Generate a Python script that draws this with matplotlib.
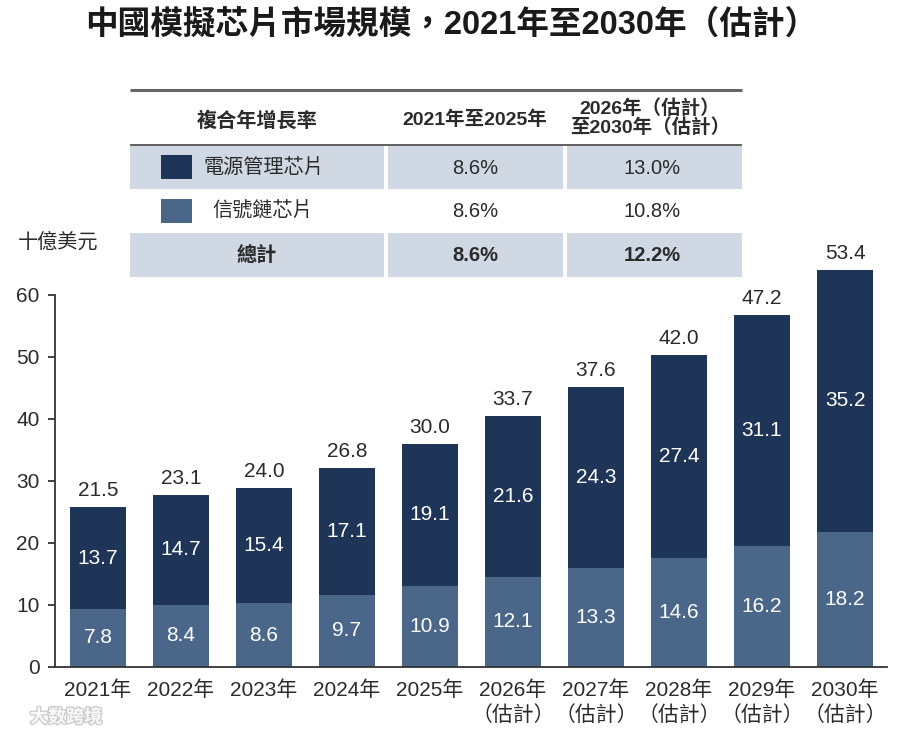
import matplotlib
matplotlib.use("Agg")
import matplotlib.pyplot as plt
import matplotlib.patheffects as pe
from matplotlib.patches import Rectangle

# ---- data (十億美元) ----
years = ["2021年", "2022年", "2023年", "2024年", "2025年",
         "2026年", "2027年", "2028年", "2029年", "2030年"]
estimated = [False] * 5 + [True] * 5
signal_chain = [7.8, 8.4, 8.6, 9.7, 10.9, 12.1, 13.3, 14.6, 16.2, 18.2]
power_mgmt = [13.7, 14.7, 15.4, 17.1, 19.1, 21.6, 24.3, 27.4, 31.1, 35.2]
totals = [21.5, 23.1, 24.0, 26.8, 30.0, 33.7, 37.6, 42.0, 47.2, 53.4]

# CAGR table
cagr_rows = ["電源管理芯片", "信號鏈芯片", "總計"]
cagr_2021_2025 = ["8.6%", "8.6%", "8.6%"]
cagr_2026_2030 = ["13.0%", "10.8%", "12.2%"]

# the source chart draws its bars 1.2x taller than its own y axis says
AXIS_SCALE = 1.2

DARK = "#1f3558"
LIGHT = "#4a6789"
SHADE = "#cfd8e3"
TXT = "#2b2b2b"
CJK = ["Liberation Sans", "Noto Sans CJK TC"]

plt.rcParams["font.family"] = CJK

fig = plt.figure(figsize=(9, 7.35), dpi=100)

# ---- overlay in pixel coords for title + CAGR table ----
ov = fig.add_axes([0, 0, 1, 1])
ov.set_xlim(0, 900)
ov.set_ylim(735, 0)
ov.axis("off")

ov.text(451, 25, "中國模擬芯片市場規模，2021年至2030年（估計）",
        ha="center", va="center", fontsize=23.5, fontweight="bold", color="#1a1a1a")

ov.plot([130, 742], [90, 90], color="#666666", lw=2.2, solid_capstyle="butt")
ov.plot([130, 742], [145, 145], color="#444444", lw=1.2, solid_capstyle="butt")
cols = [(130, 384), (388, 563), (567, 742)]
for y0, y1 in [(146, 189), (233, 277)]:
    for x0, x1 in cols:
        ov.add_patch(Rectangle((x0, y0), x1 - x0, y1 - y0, color=SHADE, lw=0))

ov.text(257, 121, "複合年增長率", ha="center", va="center", fontsize=14.5,
        fontweight="bold", color=TXT)
ov.text(475, 120, "2021年至2025年", ha="center", va="center", fontsize=14,
        fontweight="bold", color=TXT)
ov.text(650, 118, "2026年（估計）\n至2030年（估計）", ha="center", va="center",
        fontsize=14, fontweight="bold", color=TXT, linespacing=1.05)

ov.add_patch(Rectangle((161, 155), 31, 24, color=DARK, lw=0))
ov.add_patch(Rectangle((161, 199), 31, 24, color=LIGHT, lw=0))
row_y = [168, 211, 255]
ov.text(203, row_y[0], cagr_rows[0], ha="left", va="center", fontsize=14.5, color=TXT)
ov.text(212, row_y[1], cagr_rows[1], ha="left", va="center", fontsize=14.5, color=TXT)
ov.text(257, row_y[2], cagr_rows[2], ha="center", va="center", fontsize=14.5,
        fontweight="bold", color=TXT)
for i, y in enumerate(row_y):
    w = "bold" if i == 2 else "normal"
    ov.text(475, y, cagr_2021_2025[i], ha="center", va="center", fontsize=14.5,
            fontweight=w, color=TXT)
    ov.text(652, y, cagr_2026_2030[i], ha="center", va="center", fontsize=14.5,
            fontweight=w, color=TXT)

ov.text(18, 242, "十億美元", ha="left", va="center", fontsize=14.5, color=TXT)
ov.text(30, 717, "大数跨境", ha="left", va="center", fontsize=13, color="white",
        fontweight="bold", family=["Noto Sans CJK SC"], alpha=0.9,
        path_effects=[pe.withStroke(linewidth=2, foreground="#c8c8c8")])

# ---- bar chart ----
ax = fig.add_axes([55 / 900, 68 / 735, 832 / 900, 427 / 735])
ax.patch.set_alpha(0)
x = list(range(len(years)))
sig_h = [v * AXIS_SCALE for v in signal_chain]
pow_h = [v * AXIS_SCALE for v in power_mgmt]
ax.bar(x, sig_h, width=0.675, color=LIGHT)
ax.bar(x, pow_h, width=0.675, bottom=sig_h, color=DARK)

for i in x:
    ax.text(i, sig_h[i] / 2, f"{signal_chain[i]:.1f}", ha="center", va="center",
            color="white", fontsize=15)
    ax.text(i, sig_h[i] + pow_h[i] / 2, f"{power_mgmt[i]:.1f}", ha="center",
            va="center", color="white", fontsize=15)
    ax.annotate(f"{totals[i]:.1f}", (i, sig_h[i] + pow_h[i]), xytext=(0, 5),
                textcoords="offset points", ha="center", va="bottom",
                color=TXT, fontsize=15)

ax.set_xlim(-0.518, 9.506)
ax.set_ylim(0, 427 / 6.2)
ax.set_yticks(range(0, 61, 10))
ax.spines["left"].set_bounds(0, 60)
for s in ["top", "right"]:
    ax.spines[s].set_visible(False)
for s in ["left", "bottom"]:
    ax.spines[s].set_color("#333333")
    ax.spines[s].set_linewidth(1.3)
ax.set_xticks(x)
ax.set_xticklabels([y + "\n（估計）" if e else y for y, e in zip(years, estimated)],
                   linespacing=1.3)
ax.tick_params(axis="x", length=0, pad=10, labelsize=15, labelcolor=TXT)
ax.tick_params(axis="y", length=5, width=1.3, color="#333333", pad=6,
               labelsize=15, labelcolor=TXT)
for lab in ax.get_xticklabels():
    lab.set_verticalalignment("top")

fig.savefig("out.png", dpi=100)
